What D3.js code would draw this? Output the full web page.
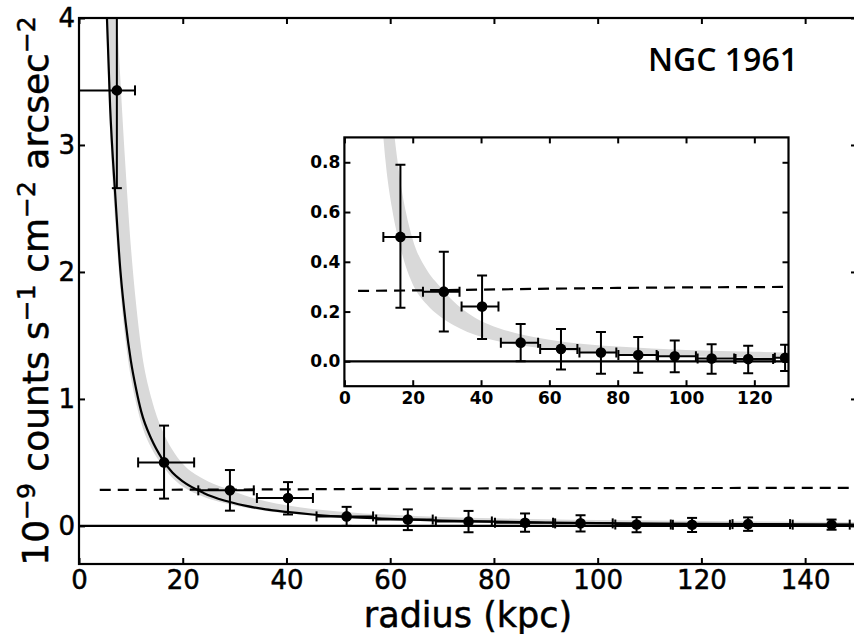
<!DOCTYPE html>
<html>
<head>
<meta charset="utf-8">
<script src="https://cdn.jsdelivr.net/npm/d3@7"></script>
<style>
  body { margin: 0; background: #fff; }
  svg { display: block; font-family: "DejaVu Sans", sans-serif; }
  .axis text { fill: #000; font-family: "DejaVu Sans", sans-serif; }
  .axis line { stroke: #000; stroke-width: 2; }
  .axis path.domain { display: none; }
  .main .axis text { font-size: 26px !important; stroke: #000; stroke-width: 0.5px; }
  .inset .axis text { font-size: 17px !important; font-weight: bold !important; }
  .heavy { stroke: #000; stroke-width: 0.5px; }
</style>
</head>
<body>
<svg id="chart" width="854" height="634"></svg>
<script>
// radial bins: mean radius, bin edges, surface brightness and its error range
const radius    = [7.3, 16.4, 29.1, 40.3, 51.6, 63.4, 75.1, 86.0, 96.7, 107.5, 118.2, 129.0, 145.1];
const radiusLo  = [0, 11.4, 23.0, 34.3, 45.8, 57.3, 68.8, 80.2, 91.8, 103.4, 114.5, 126.0, 137.6];
const radiusHi  = [10.8, 22.2, 33.7, 45.1, 56.7, 68.2, 79.6, 91.4, 102.9, 114.1, 125.5, 137.1, 148.6];
const sb        = [3.43, 0.50, 0.28, 0.22, 0.075, 0.05, 0.035, 0.025, 0.02, 0.011, 0.009, 0.014, 0.01];
const sbLo      = [2.66, 0.215, 0.12, 0.09, 0.0, -0.033, -0.05, -0.046, -0.044, -0.05, -0.048, -0.039, -0.03];
const sbHi      = [4.2, 0.79, 0.44, 0.345, 0.15, 0.13, 0.118, 0.098, 0.084, 0.069, 0.063, 0.067, 0.05];

// best-fit profile (black line)
const modelX = [5.3, 6, 7, 8, 9, 10, 11, 12, 14, 16, 18, 20, 24, 28, 32, 36, 40, 45, 50, 60, 70, 80, 90, 100, 120, 150];
const modelY = [4.1, 3.3, 2.6, 2.0, 1.6, 1.3, 1.08, 0.9, 0.68, 0.53, 0.42, 0.35, 0.26, 0.2, 0.16, 0.13, 0.11, 0.09, 0.075, 0.055, 0.042, 0.033, 0.027, 0.022, 0.016, 0.011];

// grey uncertainty band
const bandX  = [5.3, 6, 7, 8, 9, 10, 11, 12, 14, 16, 18, 20, 24, 28, 32, 36, 40, 45, 50, 60, 70, 80, 90, 100, 120, 150];
const bandLo = [3.9, 3.1, 2.4, 1.85, 1.45, 1.17, 0.97, 0.81, 0.61, 0.48, 0.38, 0.31, 0.23, 0.18, 0.145, 0.118, 0.099, 0.081, 0.068, 0.05, 0.038, 0.03, 0.024, 0.02, 0.014, 0.009];
const bandHi = [6.5, 5.3, 4.3, 3.5, 2.8, 2.2, 1.75, 1.4, 1.0, 0.76, 0.6, 0.49, 0.37, 0.3, 0.24, 0.195, 0.162, 0.134, 0.114, 0.087, 0.07, 0.06, 0.052, 0.046, 0.038, 0.03];

// dashed background level
const bkgX = [4, 20, 40, 60, 80, 100, 130, 150];
const bkgY = [0.283, 0.285, 0.288, 0.292, 0.295, 0.297, 0.299, 0.30];

const mainXTicks = [0, 20, 40, 60, 80, 100, 120, 140];
const mainYTicks = [0, 1, 2, 3, 4];
const insetXTicks = [0, 20, 40, 60, 80, 100, 120];
const insetYTicks = [0, 0.2, 0.4, 0.6, 0.8];

const svg = d3.select('#chart');
const points = radius.map((r, i) => ({r, lo: radiusLo[i], hi: radiusHi[i], y: sb[i], ylo: sbLo[i], yhi: sbHi[i]}));
const model = modelX.map((x, i) => ({x, y: modelY[i]}));
const band = bandX.map((x, i) => ({x, lo: bandLo[i], hi: bandHi[i]}));
const bkg = bkgX.map((x, i) => ({x, y: bkgY[i]}));

function panel(opts) {
    const {id, xDomain, yDomain, box, xTicks, yTicks, xFmt, yFmt, padX, padY, showModel, fill} = opts;
    const xScale = d3.scaleLinear().domain(xDomain).range([box.left, box.right]);
    const yScale = d3.scaleLinear().domain(yDomain).range([box.bottom, box.top]);
    const w = box.right - box.left, h = box.bottom - box.top;

    const g = svg.append('g').attr('class', id);
    if (fill) g.append('rect').attr('x', box.left).attr('y', box.top).attr('width', w).attr('height', h).attr('fill', '#fff');

    g.append('clipPath').attr('id', id + '-clip')
      .append('rect').attr('x', box.left).attr('y', box.top).attr('width', w).attr('height', h);
    const plot = g.append('g').attr('clip-path', `url(#${id}-clip)`);

    // grey band
    plot.append('path').datum(band)
        .attr('fill', '#d9d9d9')
        .attr('d', d3.area().curve(d3.curveMonotoneX)
            .x(d => xScale(d.x)).y0(d => yScale(d.lo)).y1(d => yScale(d.hi)));

    if (showModel) {
        plot.append('path').datum(model)
            .attr('fill', 'none').attr('stroke', '#000').attr('stroke-width', 2.2)
            .attr('d', d3.line().curve(d3.curveMonotoneX).x(d => xScale(d.x)).y(d => yScale(d.y)));
    }

    // zero level
    plot.append('line')
        .attr('x1', xScale(xDomain[0])).attr('x2', xScale(xDomain[1]))
        .attr('y1', yScale(0)).attr('y2', yScale(0))
        .attr('stroke', '#000').attr('stroke-width', 2.2);

    // background
    plot.append('path').datum(bkg)
        .attr('fill', 'none').attr('stroke', '#000').attr('stroke-width', 2.2)
        .attr('stroke-dasharray', '11,7')
        .attr('d', d3.line().x(d => xScale(d.x)).y(d => yScale(d.y)));

    // error bars
    const eb = plot.selectAll('g.eb').data(points).join('g').attr('class', 'eb')
        .attr('stroke', '#000').attr('stroke-width', 2);
    eb.append('line').attr('x1', d => xScale(d.lo)).attr('x2', d => xScale(d.hi))
        .attr('y1', d => yScale(d.y)).attr('y2', d => yScale(d.y));
    eb.append('line').attr('x1', d => xScale(d.r)).attr('x2', d => xScale(d.r))
        .attr('y1', d => yScale(d.ylo)).attr('y2', d => yScale(d.yhi));
    const cap = 5;
    ['lo', 'hi'].forEach(k => {
        eb.append('line').attr('x1', d => xScale(d[k])).attr('x2', d => xScale(d[k]))
            .attr('y1', d => yScale(d.y) - cap).attr('y2', d => yScale(d.y) + cap);
    });
    ['ylo', 'yhi'].forEach(k => {
        eb.append('line').attr('x1', d => xScale(d.r) - cap).attr('x2', d => xScale(d.r) + cap)
            .attr('y1', d => yScale(d[k])).attr('y2', d => yScale(d[k]));
    });
    plot.selectAll('circle.pt').data(points).join('circle').attr('class', 'pt')
        .attr('cx', d => xScale(d.r)).attr('cy', d => yScale(d.y)).attr('r', 5.3).attr('fill', '#000');

    // axes, ticks pointing inward
    const tl = 6;
    g.append('g').attr('class', 'axis').attr('transform', `translate(0,${box.bottom})`)
        .call(d3.axisBottom(xScale).tickValues(xTicks).tickFormat(xFmt).tickSize(-tl).tickPadding(padX));
    g.append('g').attr('class', 'axis').attr('transform', `translate(${box.left},0)`)
        .call(d3.axisLeft(yScale).tickValues(yTicks).tickFormat(yFmt).tickSize(-tl).tickPadding(padY));
    g.append('g').attr('class', 'axis').attr('transform', `translate(0,${box.top})`)
        .call(d3.axisTop(xScale).tickValues(xTicks).tickFormat('').tickSize(-tl));
    g.append('g').attr('class', 'axis').attr('transform', `translate(${box.right},0)`)
        .call(d3.axisRight(yScale).tickValues(yTicks).tickFormat('').tickSize(-tl));

    g.append('rect').attr('x', box.left).attr('y', box.top).attr('width', w).attr('height', h)
        .attr('fill', 'none').attr('stroke', '#000').attr('stroke-width', 2.2);
    return g;
}

// main panel
panel({
    id: 'main', xDomain: [0, 150], yDomain: [-0.3, 4],
    box: {left: 79, right: 857, top: 18, bottom: 564},
    xTicks: mainXTicks, yTicks: mainYTicks,
    xFmt: d3.format('d'), yFmt: d3.format('d'), padX: 7, padY: 4,
    showModel: true, fill: false
});

// inset panel
panel({
    id: 'inset', xDomain: [0, 130], yDomain: [-0.1, 0.9],
    box: {left: 344.4, right: 788.5, top: 137.4, bottom: 386.2},
    xTicks: insetXTicks, yTicks: insetYTicks,
    xFmt: d3.format('d'), yFmt: d3.format('.1f'), padX: 6, padY: 4,
    showModel: false, fill: true
});

// axis labels
svg.append('text').attr('class', 'heavy').attr('x', 468).attr('y', 627).attr('text-anchor', 'middle')
    .style('font-size', '35px').text('radius (kpc)');

const yl = svg.append('text').attr('class', 'heavy').attr('transform', 'translate(48,291) rotate(-90)')
    .attr('text-anchor', 'middle').style('font-size', '36px');
const parts = [['10', false], ['−9', true], [' counts s', false], ['−1', true],
               [' cm', false], ['−2', true], [' arcsec', false], ['−2', true]];
let raised = false;
parts.forEach(([t, sup]) => {
    const ts = yl.append('tspan').text(t);
    if (sup && !raised) { ts.attr('dy', -13).style('font-size', '25px'); raised = true; }
    else if (sup) { ts.style('font-size', '25px'); }
    else if (!sup && raised) { ts.attr('dy', 13); raised = false; }
});

svg.append('text').attr('x', 798).attr('y', 71).attr('text-anchor', 'end')
    .style('font-family', '"Open Sans", sans-serif').style('font-size', '32px').style('font-weight', 600)
    .text('NGC 1961');
</script>
</body>
</html>
